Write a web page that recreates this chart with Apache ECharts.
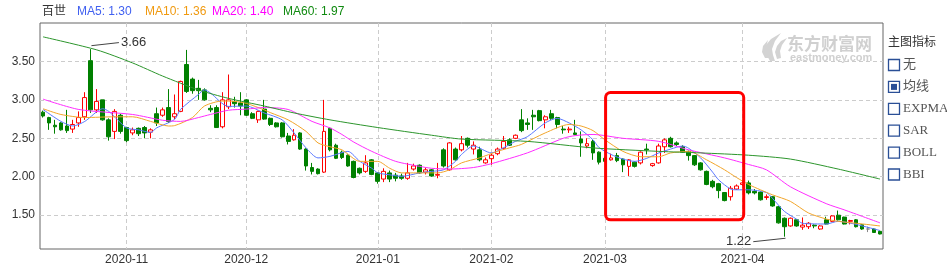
<!DOCTYPE html>
<html><head><meta charset="utf-8">
<script src="https://cdn.jsdelivr.net/npm/echarts@6.0.0/dist/echarts.min.js"></script>
<style>html,body{margin:0;padding:0;background:#fff}#c{width:947px;height:268px}</style>
</head><body><div id="c"></div>
<script>
// ---------- DATA ----------
const stockName = '百世';
const dates = [
'2020-10-13','2020-10-14','2020-10-15','2020-10-16','2020-10-19','2020-10-20','2020-10-21','2020-10-22','2020-10-23','2020-10-26','2020-10-27','2020-10-28','2020-10-29','2020-10-30',
'2020-11-02','2020-11-03','2020-11-04','2020-11-05','2020-11-06','2020-11-09','2020-11-10','2020-11-11','2020-11-12','2020-11-13','2020-11-16','2020-11-17','2020-11-18','2020-11-19','2020-11-20','2020-11-23','2020-11-24','2020-11-25','2020-11-27','2020-11-30',
'2020-12-01','2020-12-02','2020-12-03','2020-12-04','2020-12-07','2020-12-08','2020-12-09','2020-12-10','2020-12-11','2020-12-14','2020-12-15','2020-12-16','2020-12-17','2020-12-18','2020-12-21','2020-12-22','2020-12-23','2020-12-24','2020-12-28','2020-12-29','2020-12-30','2020-12-31',
'2021-01-04','2021-01-05','2021-01-06','2021-01-07','2021-01-08','2021-01-11','2021-01-12','2021-01-13','2021-01-14','2021-01-15','2021-01-19','2021-01-20','2021-01-21','2021-01-22','2021-01-25','2021-01-26','2021-01-27','2021-01-28','2021-01-29',
'2021-02-01','2021-02-02','2021-02-03','2021-02-04','2021-02-05','2021-02-08','2021-02-09','2021-02-10','2021-02-11','2021-02-12','2021-02-16','2021-02-17','2021-02-18','2021-02-19','2021-02-22','2021-02-23','2021-02-24','2021-02-25','2021-02-26',
'2021-03-01','2021-03-02','2021-03-03','2021-03-04','2021-03-05','2021-03-08','2021-03-09','2021-03-10','2021-03-11','2021-03-12','2021-03-15','2021-03-16','2021-03-17','2021-03-18','2021-03-19','2021-03-22','2021-03-23','2021-03-24','2021-03-25','2021-03-26','2021-03-29','2021-03-30','2021-03-31',
'2021-04-01','2021-04-05','2021-04-06','2021-04-07','2021-04-08','2021-04-09','2021-04-12','2021-04-13','2021-04-14','2021-04-15','2021-04-16','2021-04-19','2021-04-20','2021-04-21','2021-04-22','2021-04-23','2021-04-26','2021-04-27','2021-04-28','2021-04-29','2021-04-30',
'2021-05-03','2021-05-04','2021-05-05'
];
const opens = [2.84,2.77,2.67,2.70,2.66,2.62,2.70,2.78,3.51,2.87,3.00,2.74,2.59,2.80,
2.64,2.57,2.63,2.64,2.58,2.82,2.80,2.90,2.78,2.85,3.46,3.27,3.15,3.13,2.89,2.90,2.65,2.91,2.98,2.96,
3.00,2.82,2.74,2.88,2.76,2.70,2.70,2.53,2.48,2.57,2.36,2.12,2.10,2.06,2.63,2.41,2.32,2.28,2.20,2.11,2.07,2.22,
2.05,1.97,2.05,2.02,2.01,1.98,2.10,2.15,2.06,2.09,2.02,2.35,2.09,2.36,2.35,2.50,2.36,2.35,2.18,
2.235,2.30,2.37,2.48,2.50,2.74,2.70,2.80,2.86,2.74,2.82,2.77,2.62,2.61,2.57,2.49,2.40,2.46,2.32,
2.24,2.22,2.275,2.23,2.135,2.19,2.18,2.36,2.145,2.18,2.39,2.50,2.44,2.39,2.33,2.275,2.18,2.07,1.94,1.91,1.795,1.74,1.84,
1.90,1.92,1.81,1.80,1.73,1.74,1.61,1.46,1.36,1.44,1.345,1.35,1.37,1.32,1.44,1.42,1.50,1.475,1.42,1.44,1.375,
1.32,1.32,1.29];
const closes = [2.79,2.70,2.65,2.61,2.60,2.68,2.77,3.03,2.87,2.98,2.74,2.52,2.85,2.59,
2.47,2.61,2.56,2.57,2.61,2.70,2.87,2.72,2.82,3.24,3.11,3.12,3.12,3.00,2.87,2.64,3.00,3.00,2.95,2.92,
2.80,2.76,2.85,2.75,2.68,2.65,2.52,2.46,2.54,2.36,2.14,2.07,2.04,2.59,2.35,2.24,2.25,2.14,1.99,2.05,2.18,2.03,
1.94,2.07,1.97,1.98,1.98,2.05,2.14,2.05,2.09,2.01,2.03,2.14,2.44,2.22,2.43,2.41,2.41,2.22,2.22,
2.28,2.36,2.46,2.41,2.54,2.60,2.68,2.78,2.73,2.78,2.76,2.68,2.61,2.62,2.55,2.44,2.43,2.31,2.19,
2.20,2.245,2.21,2.155,2.22,2.135,2.32,2.35,2.17,2.40,2.48,2.39,2.42,2.32,2.275,2.155,2.09,1.90,1.87,1.82,1.69,1.85,1.88,
1.92,1.79,1.79,1.70,1.74,1.62,1.40,1.35,1.46,1.36,1.37,1.395,1.36,1.36,1.385,1.49,1.44,1.385,1.43,1.35,1.32,
1.32,1.275,1.255];
const lows = [2.77,2.61,2.56,2.60,2.57,2.57,2.65,2.74,2.83,2.83,2.73,2.47,2.49,2.56,
2.45,2.54,2.53,2.50,2.50,2.66,2.78,2.70,2.75,2.84,3.09,3.08,3.00,2.99,2.84,2.64,2.63,2.88,2.90,2.80,
2.79,2.75,2.70,2.74,2.66,2.64,2.51,2.42,2.47,2.35,2.08,2.03,2.03,2.05,2.33,2.23,2.23,2.13,1.98,2.03,2.05,2.02,
1.91,1.93,1.93,1.94,1.96,1.96,2.08,2.04,2.03,2.00,1.98,2.12,2.08,2.21,2.33,2.38,2.29,2.20,2.17,
2.155,2.28,2.35,2.40,2.49,2.58,2.61,2.61,2.72,2.63,2.74,2.63,2.56,2.57,2.54,2.26,2.37,2.22,2.16,
2.19,2.21,2.19,2.06,2.01,2.12,2.16,2.29,2.13,2.17,2.31,2.38,2.40,2.31,2.21,2.14,2.08,1.89,1.85,1.72,1.68,1.69,1.83,
1.88,1.77,1.77,1.69,1.70,1.61,1.39,1.22,1.35,1.35,1.31,1.32,1.33,1.31,1.38,1.41,1.43,1.38,1.38,1.34,1.31,
1.28,1.27,1.25];
const highs = [2.86,2.78,2.74,2.71,2.87,2.74,2.85,3.10,3.66,3.14,3.00,2.76,2.88,2.82,
2.65,2.64,2.64,2.66,2.63,2.90,2.90,3.14,3.07,3.25,3.65,3.29,3.26,3.15,2.93,2.93,3.10,3.33,3.04,3.10,
3.01,2.84,2.86,3.00,2.77,2.71,2.71,2.57,2.62,2.58,2.37,2.18,2.11,3.00,2.64,2.43,2.34,2.29,2.21,2.12,2.28,2.23,
2.06,2.11,2.08,2.05,2.04,2.18,2.17,2.16,2.12,2.10,2.18,2.37,2.45,2.38,2.53,2.51,2.46,2.39,2.25,
2.31,2.38,2.53,2.50,2.55,2.88,2.76,2.87,2.87,2.80,2.87,2.78,2.66,2.65,2.74,2.59,2.50,2.48,2.33,
2.26,2.30,2.31,2.24,2.23,2.20,2.33,2.43,2.18,2.43,2.50,2.52,2.46,2.41,2.34,2.28,2.19,2.08,1.96,1.92,1.80,1.88,1.90,
1.95,1.95,1.84,1.81,1.77,1.75,1.62,1.47,1.47,1.45,1.47,1.41,1.38,1.37,1.48,1.50,1.56,1.48,1.44,1.45,1.38,
1.35,1.33,1.30];
// moving averages: [trading-day index, value]
const ma5 = [[0,2.875],[3,2.72],[5,2.66],[7,2.72],[10,2.885],[11,2.85],[14,2.635],[16,2.61],[18,2.575],[19,2.635],[22,2.745],[23,2.875],[26,3.07],[27,3.13],[28,3.09],[31,2.915],[34,2.92],[37,2.83],[40,2.74],[42,2.57],[44,2.375],[46,2.245],[48,2.265],[51,2.33],[53,2.20],[55,2.11],[56,2.05],[58,2.025],[60,2.005],[63,2.05],[65,2.07],[67,2.09],[69,2.20],[70,2.29],[72,2.40],[75,2.31],[77,2.375],[79,2.46],[81,2.52],[84,2.70],[86,2.76],[88,2.70],[90,2.61],[92,2.48],[93,2.38],[95,2.29],[97,2.23],[99,2.20],[101,2.24],[103,2.31],[105,2.36],[107,2.40],[108,2.37],[110,2.245],[112,2.06],[113,1.96],[115,1.84],[116,1.83],[118,1.83],[121,1.795],[122,1.72],[124,1.55],[126,1.45],[127,1.395],[131,1.385],[133,1.42],[136,1.38],[140,1.30]];
const ma10 = [[0,2.885],[3,2.81],[7,2.77],[12,2.78],[15,2.78],[18,2.72],[21,2.66],[22,2.665],[25,2.77],[27,2.92],[30,2.985],[32,2.98],[34,2.955],[37,2.87],[38,2.835],[41,2.74],[44,2.59],[46,2.44],[48,2.39],[50,2.35],[53,2.20],[56,2.20],[58,2.11],[60,2.05],[64,2.05],[66,2.05],[68,2.09],[70,2.18],[73,2.245],[76,2.33],[78,2.375],[80,2.42],[84,2.57],[88,2.68],[90,2.66],[92,2.60],[94,2.48],[97,2.33],[100,2.26],[103,2.26],[105,2.31],[108,2.33],[111,2.22],[114,2.09],[116,1.99],[118,1.90],[120,1.83],[122,1.765],[125,1.68],[128,1.53],[131,1.45],[133,1.42],[136,1.395],[140,1.36]];
const ma20 = [[0,3.01],[6,2.875],[15,2.81],[20,2.735],[23,2.72],[26,2.77],[28,2.81],[31,2.865],[34,2.88],[37,2.90],[41,2.875],[45,2.72],[48,2.635],[50,2.55],[52,2.45],[55,2.33],[59,2.20],[63,2.135],[65,2.11],[68,2.10],[72,2.12],[75,2.17],[81,2.31],[87,2.50],[89,2.535],[92,2.55],[97,2.50],[103,2.46],[108,2.35],[114,2.245],[118,2.16],[121,2.09],[125,1.87],[131,1.65],[134,1.57],[140,1.40]];
const ma60 = [[0,3.82],[9,3.65],[15,3.48],[20,3.31],[26,3.13],[31,3.02],[37,2.92],[42,2.83],[48,2.74],[56,2.64],[65,2.54],[70,2.49],[81,2.46],[92,2.375],[103,2.33],[110,2.31],[118,2.28],[125,2.23],[133,2.10],[140,1.97]];
const maNames = ['MA5','MA10','MA20','MA60'];
const maLast = ['1.30','1.36','1.40','1.97'];
const yTicks = [1.5, 2.0, 2.5, 3.0, 3.5];
const monthTicks = ['2020-11','2020-12','2021-01','2021-02','2021-03','2021-04'];
const indicatorItems = ['无','均线','EXPMA','SAR','BOLL','BBI'];
const indicatorChecked = '均线';

// ---------- CHART ----------
const FONT = '"Liberation Sans", Arial, "Noto Sans CJK SC", sans-serif';
const maColors = ['#5a78ff','#f2a52a','#ff2cff','#2c952c'];
const maTextColors = ['#4060f0','#f09a10','#ff00ff','#108a10'];
const UP = '#ff0000', DOWN = '#008000', FLAT = '#888888';

const monthIdx = monthTicks.map(m => dates.findIndex(d => d.startsWith(m)));
const candleData = dates.map((d, i) => {
  const v = [i, opens[i], closes[i], lows[i], highs[i]];
  if (opens[i] === closes[i]) return { value: v, itemStyle: { color: FLAT, borderColor: FLAT, color0: FLAT, borderColor0: FLAT } };
  return v;
});
let hMax = -Infinity, iMax = 0, lMin = Infinity, iMin = 0;
highs.forEach((h, i) => { if (h > hMax) { hMax = h; iMax = i; } });
lows.forEach((l, i) => { if (l < lMin) { lMin = l; iMin = i; } });

const chart = echarts.init(document.getElementById('c'), null, { renderer: 'canvas' });
const maSeries = [ma5, ma10, ma20, ma60].map((arr, k) => ({
  type: 'line', name: maNames[k], data: arr, showSymbol: false, smooth: 0.25,
  lineStyle: { color: maColors[k], width: 1 }, silent: true, animation: false, z: 3
}));

chart.setOption({
  animation: false,
  textStyle: { fontFamily: FONT },
  grid: { left: 40, right: 64, top: 23, bottom: 19, show: true, borderColor: '#666', borderWidth: 1, backgroundColor: 'transparent' },
  xAxis: {
    type: 'value', min: -0.5, max: dates.length - 0.5,
    axisLine: { show: false },
    axisTick: { show: false, customValues: monthIdx },
    axisLabel: { customValues: monthIdx, formatter: v => dates[Math.round(v)].slice(0, 7), color: '#333', fontSize: 12, margin: 5, fontFamily: FONT },
    splitLine: { show: true, lineStyle: { color: '#cccccc', type: [4, 3], width: 1 } }
  },
  yAxis: {
    type: 'value', min: 1.06, max: 4.0, scale: true,
    axisLine: { show: false },
    axisTick: { show: false, customValues: yTicks },
    axisLabel: { customValues: yTicks, formatter: v => v.toFixed(2), color: '#333', fontSize: 12, margin: 5, fontFamily: FONT },
    splitLine: { show: true, lineStyle: { color: '#cccccc', type: [4, 3], width: 1 } }
  },
  series: [{
    type: 'candlestick', data: candleData, encode: { x: 0, y: [1, 2, 3, 4] },
    barWidth: '72%',
    itemStyle: { color: '#ffffff', color0: DOWN, borderColor: UP, borderColor0: DOWN, borderWidth: 1 },
    z: 2,
    markLine: {
      silent: true, animation: false, symbol: ['none', 'arrow'], symbolSize: [0, 7],
      lineStyle: { color: '#444', width: 1, type: 'solid' },
      label: { show: true, position: 'start', color: '#333', fontSize: 13, fontFamily: FONT, distance: 2 },
      data: [
        [{ coord: [iMax + 4.7, hMax + 0.085], label: { formatter: hMax.toFixed(2) } }, { coord: [iMax + 0.1, hMax + 0.045] }],
        [{ coord: [iMin - 5.2, lMin - 0.065], label: { formatter: lMin.toFixed(2) } }, { coord: [iMin + 0.2, lMin - 0.02] }]
      ]
    }
  }].concat(maSeries)
});

// ---------- GRAPHICS (header, annotation box, side panel, watermark) ----------
const g = [];
g.push({ type: 'text', x: 42, y: 6, style: { text: stockName, fill: '#333', font: '12px ' + FONT } });
const legendX = [77, 145, 212, 283];
maNames.forEach((n, k) => g.push({ type: 'text', x: legendX[k], y: 6, style: { text: n + ': ' + maLast[k], fill: maTextColors[k], font: '12px ' + FONT } }));

const p1 = chart.convertToPixel({ gridIndex: 0 }, [94.1, 3.095]);
const p2 = chart.convertToPixel({ gridIndex: 0 }, [117.2, 1.44]);
g.push({ type: 'rect', z: 100, shape: { x: p1[0], y: p1[1], width: p2[0] - p1[0], height: p2[1] - p1[1], r: 5 }, style: { fill: 'none', stroke: '#ff0000', lineWidth: 3 } });

// side panel
g.push({ type: 'text', x: 888, y: 35, style: { text: '主图指标', fill: '#333', font: '12px "Noto Sans CJK SC", sans-serif' } });
indicatorItems.forEach((t, k) => {
  const cy = 65 + k * 21.9;
  g.push({ type: 'rect', shape: { x: 888.5, y: cy - 5.5, width: 11, height: 11 }, style: { fill: '#fff', stroke: '#2a4f96', lineWidth: 1.3 } });
  if (t === indicatorChecked) g.push({ type: 'rect', shape: { x: 891, y: cy - 3, width: 6, height: 6 }, style: { fill: '#2a4f96' } });
  g.push({ type: 'text', x: 903, y: cy, style: { text: t, fill: '#555', font: '13px "Liberation Serif", "Noto Sans CJK SC", serif', verticalAlign: 'middle' } });
});

// watermark
g.push({ type: 'text', x: 787, y: 35, z: 0, style: { text: '东方财富网', fill: '#d0d0d0', font: 'bold 17px "Noto Sans CJK SC", sans-serif' } });
g.push({ type: 'text', x: 790, y: 52, z: 0, style: { text: 'eastmoney.com', fill: '#d0d0d0', font: 'bold 11px ' + FONT } });
g.push({ type: 'polygon', z: 0, shape: { points: [[770,61],[765,52],[766,45],[771,39],[781,33],[775,41],[772,49],[773,55],[775,61]] }, style: { fill: '#d3d3d3' } });
g.push({ type: 'polygon', z: 0, shape: { points: [[777,59],[775,52],[777,46],[781,41],[787,38],[782,45],[780,51],[781,58]] }, style: { fill: '#d3d3d3' } });
g.push({ type: 'polygon', z: 0, shape: { points: [[765,58],[762,52],[763,46],[768,40],[766,47],[767,52],[769,58]] }, style: { fill: '#d3d3d3' } });

chart.setOption({ graphic: g });
</script>
</body></html>
